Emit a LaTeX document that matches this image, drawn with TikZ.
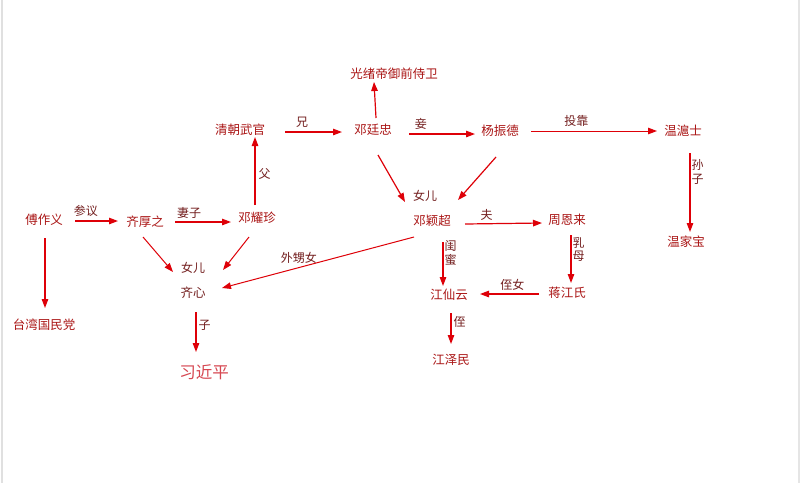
\documentclass[tikz,border=0pt]{standalone}
\usepackage{fontspec}
\newfontfamily\cjk{Noto Sans CJK SC}
\usetikzlibrary{arrows.meta}
\definecolor{nodered}{RGB}{170,22,22}
\definecolor{labred}{RGB}{115,30,30}
\definecolor{arrred}{RGB}{222,0,8}
\definecolor{xired}{RGB}{214,70,80}
\tikzset{
  person/.style={inner sep=1pt, text=nodered, font=\cjk\fontsize{12.5}{14}\selectfont},
  lab/.style={inner sep=1pt, text=labred, font=\cjk\fontsize{12}{14}\selectfont},
  vlab/.style={inner sep=0pt, text=labred, align=center, font=\cjk\fontsize{12}{13.5}\selectfont},
  arr/.style={draw=arrred, line width=1.2pt, -{Triangle[length=9pt,width=6.5pt]}},
}
\begin{document}
\begin{tikzpicture}[x=1pt,y=-1pt]
\useasboundingbox (0,0) rectangle (800,483);
\fill[white] (0,0) rectangle (800,483);
\draw[black!12, line width=2pt] (1.5,0) -- (1.5,483);
\draw[black!10, line width=2pt] (798.5,0) -- (798.5,483);

% persons
\node[person] (gx)   at (394,74)  {光绪帝御前侍卫};
\node[person] (qcwg) at (240,130) {清朝武官};
\node[person] (dtz)  at (373,130) {邓廷忠};
\node[person] (yzd)  at (500,131) {杨振德};
\node[person] (wys)  at (683,131) {温滬士};
\node[person] (fzy)  at (44,220)  {傅作义};
\node[person] (qhz)  at (145,222) {齐厚之};
\node[person] (dyz)  at (257,218) {邓耀珍};
\node[person, text=labred] (qx) at (193,293) {齐心};
\node[person, text=xired, font=\cjk\fontsize{16.5}{18}\selectfont] (xjp) at (204,372) {习近平};
\node[person] (tw)   at (44,325)  {台湾国民党};
\node[person] (dyc)  at (432,221) {邓颖超};
\node[person] (zel)  at (567,220) {周恩来};
\node[person] (wjb)  at (686,242) {温家宝};
\node[person] (jjs)  at (567,293) {蒋江氏};
\node[person] (jxy)  at (449,295) {江仙云};
\node[person] (jzm)  at (451,360) {江泽民};

% shared labels
\node[lab] (nv1) at (193,268) {女儿};
\node[lab] (nv2) at (425,196) {女儿};

% connectors
\draw[arr] ([shift={(31,1)}]fzy.center) -- ([shift={(-27,-1)}]qhz.center)
  node[lab, pos=0.25, above=3pt] (l1) {参议};
\draw[arr] ([shift={(1,18)}]fzy.center) -- ([shift={(1,-17)}]tw.center);
\draw[arr] ([shift={(30,0)}]qhz.center) -- ([shift={(-26,4)}]dyz.center)
  node[lab, pos=0.25, above=2pt] (l2) {妻子};
\draw[arr] ([shift={(-2,-13)}]dyz.center) -- ([shift={(15,7)}]qcwg.center)
  node[lab, pos=0.45, right=2pt] (l3) {父};
\draw[arr] ([shift={(45,2)}]qcwg.center) -- ([shift={(-31,2)}]dtz.center)
  node[lab, pos=0.3, above=3pt] (l4) {兄};
\draw[arr] ([shift={(3,-12)}]dtz.center) -- ([shift={(-20,8)}]gx.center);
\draw[arr] ([shift={(5,25)}]dtz.center) -- ([shift={(-27,-19)}]dyc.center);
\draw[arr] ([shift={(-4,26)}]yzd.center) -- ([shift={(26,-21)}]dyc.center);
\draw[arr] ([shift={(36,4)}]dtz.center) -- ([shift={(-25,3)}]yzd.center)
  node[lab, pos=0.18, above=3pt] (l5) {妾};
\draw[arr, line width=1pt] ([shift={(31,0)}]yzd.center) -- ([shift={(-26,0)}]wys.center)
  node[lab, pos=0.36, above=3pt] (l6) {投靠};
\draw[arr] ([shift={(7,22)}]wys.center) -- ([shift={(4,-10)}]wjb.center)
  node[vlab, pos=0.24, right=1pt] (l7) {孙\\子};
\draw[arr] ([shift={(33,3)}]dyc.center) -- ([shift={(-25,3)}]zel.center)
  node[lab, pos=0.28, above=2pt] (l8) {夫};
\draw[arr] ([shift={(4,15)}]zel.center) -- ([shift={(4,-10)}]jjs.center)
  node[vlab, pos=0.3, right=1pt] (l9) {乳\\母};
\draw[arr] ([shift={(-28,1)}]jjs.center) -- ([shift={(31,-1)}]jxy.center)
  node[lab, pos=0.45, above=2pt] (l10) {侄女};
\draw[arr] ([shift={(11,21)}]dyc.center) -- ([shift={(-6,-9)}]jxy.center)
  node[vlab, pos=0.25, right=1pt] (l11) {闺\\蜜};
\draw[arr] ([shift={(2,18)}]jxy.center) -- ([shift={(0,-16)}]jzm.center)
  node[lab, pos=0.3, right=1pt] (l12) {侄};
\draw[arr, line width=1pt] ([shift={(-18,16)}]dyc.center) -- ([shift={(29,-5)}]qx.center)
  node[lab, pos=0.6, above=3pt] (l13) {外甥女};
\draw[arr, line width=1pt] ([shift={(-2,15)}]qhz.center) -- ([shift={(-20,-21)}]qx.center);
\draw[arr, line width=1pt] ([shift={(-8,19)}]dyz.center) -- ([shift={(30,-23)}]qx.center);
\draw[arr] ([shift={(3,19)}]qx.center) -- ([shift={(-8,-20)}]xjp.center)
  node[lab, pos=0.33, right=1pt] (l14) {子};
\end{tikzpicture}
\end{document}
